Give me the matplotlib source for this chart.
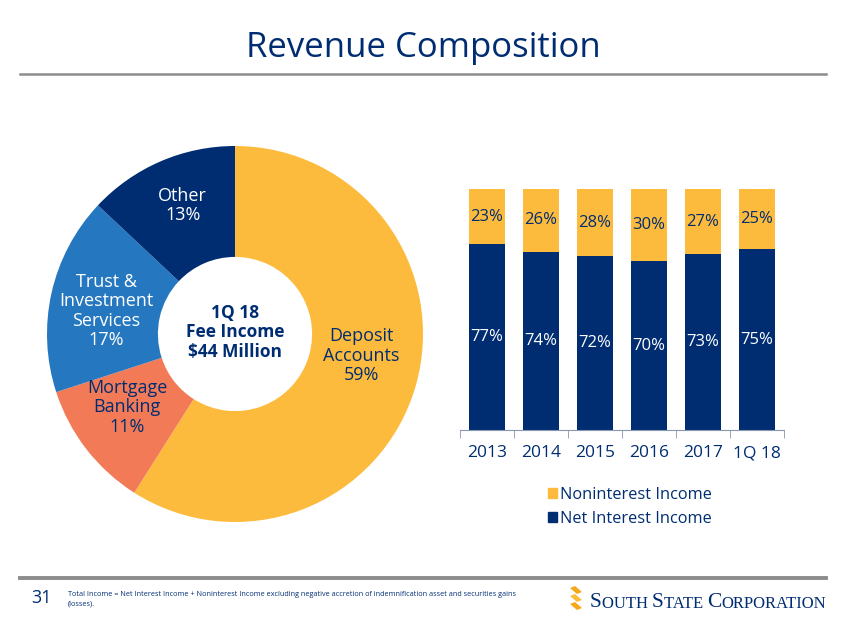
import numpy as np
import matplotlib.pyplot as plt
from matplotlib.patches import Patch, Polygon

plt.rcParams['font.family'] = ['Open Sans', 'DejaVu Sans']

NAVY = '#002D72'
YELLOW = '#FDBB3D'
CORAL = '#F27A57'
BLUE = '#2578BF'
GREY = '#8C8C8C'

# donut data (1Q 18 fee income)
fee_labels = ['Deposit\nAccounts', 'Mortgage\nBanking', 'Trust &\nInvestment\nServices', 'Other']
fee_pct = [59, 11, 17, 13]
fee_colors = [YELLOW, CORAL, BLUE, NAVY]
fee_text = [NAVY, NAVY, 'white', 'white']

# bar data
periods = ['2013', '2014', '2015', '2016', '2017', '1Q 18']
net_interest = [77, 74, 72, 70, 73, 75]
noninterest = [23, 26, 28, 30, 27, 25]

W, H = 846, 635
fig = plt.figure(figsize=(W / 100, H / 100), dpi=100)


def rect(x0, y0, x1, y1):
    # pixel box (top-left origin) -> figure fraction
    return [x0 / W, 1 - y1 / H, (x1 - x0) / W, (y1 - y0) / H]


# background / decorations in pixel space
bg = fig.add_axes([0, 0, 1, 1])
bg.set_xlim(0, W)
bg.set_ylim(H, 0)
bg.axis('off')
bg.text(423, 48, 'Revenue Composition', color=NAVY, fontsize=25,
        ha='center', va='center')
bg.plot([20, 826], [73.5, 73.5], color=GREY, lw=1.8)
bg.plot([20, 826], [577.5, 577.5], color=GREY, lw=2.8)
bg.text(41, 598, '31', color=NAVY, fontsize=13, ha='center', va='center')
bg.text(68, 599, 'Total Income = Net Interest Income + Noninterest Income excluding negative '
        'accretion of indemnification asset and securities gains\n(losses).',
        color=NAVY, fontsize=5.2, ha='left', va='center', linespacing=1.45)

# logo stripes
for dy, col in [(0, '#F6A81C'), (8, '#FDBB3D'), (16, '#F6A81C')]:
    bg.add_patch(Polygon([(570, 588 + dy), (575, 586 + dy), (582, 592 + dy), (577, 594 + dy)],
                         closed=True, color=col, lw=0))
# small caps company name
parts = [('S', 15.5), ('OUTH ', 12), ('S', 15.5), ('TATE ', 12), ('C', 15.5), ('ORPORATION', 12)]
prev = None
for s, fs in parts:
    if prev is None:
        prev = bg.text(590, 607, s, color=NAVY, fontsize=fs, ha='left', va='baseline',
                       family='Liberation Serif')
    else:
        prev = bg.annotate(s, xy=(1, 0), xycoords=prev, xytext=(0, 0),
                           textcoords='offset points', color=NAVY, fontsize=fs,
                           ha='left', va='bottom', family='Liberation Serif')

# donut
cx, cy, r = 235, 334, 188
axp = fig.add_axes(rect(cx - 190, cy - 190, cx + 190, cy + 190))
wedges, _ = axp.pie(fee_pct, colors=fee_colors, startangle=90, counterclock=False,
                    radius=1, wedgeprops=dict(width=0.59, edgecolor='none'))
axp.set_xlim(-190 / r, 190 / r)
axp.set_ylim(-190 / r, 190 / r)
axp.set_aspect('equal')
axp.axis('off')
nudges = [(0.0, 0.08), (-0.02, 0.04), (0.0, -0.03), (0.0, 0.04)]
for w, lab, pct, tc, (nx, ny) in zip(wedges, fee_labels, fee_pct, fee_text, nudges):
    ang = np.deg2rad((w.theta1 + w.theta2) / 2)
    x, y = 0.7 * np.cos(ang) + nx, 0.7 * np.sin(ang) + ny
    axp.text(x, y, f'{lab}\n{pct}%', color=tc, fontsize=13, ha='center', va='center',
             linespacing=1.1)
axp.text(0, 0.01, '1Q 18\nFee Income\n$44 Million', color=NAVY, fontsize=12.5,
         fontweight='bold', ha='center', va='center', linespacing=1.1)

# stacked bars
axb = fig.add_axes(rect(460, 189, 784, 430))
xs = np.arange(len(periods))
axb.bar(xs, net_interest, width=0.65, color=NAVY, label='Net Interest Income')
axb.bar(xs, noninterest, width=0.65, bottom=net_interest, color=YELLOW,
        label='Noninterest Income')
for x, a, b in zip(xs, net_interest, noninterest):
    axb.text(x, a / 2, f'{a}%', color='white', fontsize=12, ha='center', va='center')
    axb.text(x, a + b / 2, f'{b}%', color=NAVY, fontsize=12, ha='center', va='center')
axb.set_xlim(-0.5, len(periods) - 0.5)
axb.set_ylim(0, 100)
for s in ['top', 'right', 'left']:
    axb.spines[s].set_visible(False)
axb.spines['bottom'].set_color('#8B97AE')
axb.set_yticks([])
axb.set_xticks(xs)
axb.set_xticklabels(periods, color=NAVY, fontsize=12.5)
axb.tick_params(axis='x', which='major', length=0, pad=11)
axb.set_xticks(np.arange(len(periods) + 1) - 0.5, minor=True)
axb.tick_params(axis='x', which='minor', length=6, color='#8B97AE')

handles = [Patch(color=YELLOW, label='Noninterest Income'),
           Patch(color=NAVY, label='Net Interest Income')]
fig.legend(handles=handles, loc='upper left', bbox_to_anchor=(541 / W, 1 - 480 / H),
           frameon=False, fontsize=11.8, labelcolor=NAVY, handlelength=0.6,
           handleheight=0.6, handletextpad=0.15, labelspacing=0.5, borderaxespad=0)

fig.savefig('out.png', dpi=100)
